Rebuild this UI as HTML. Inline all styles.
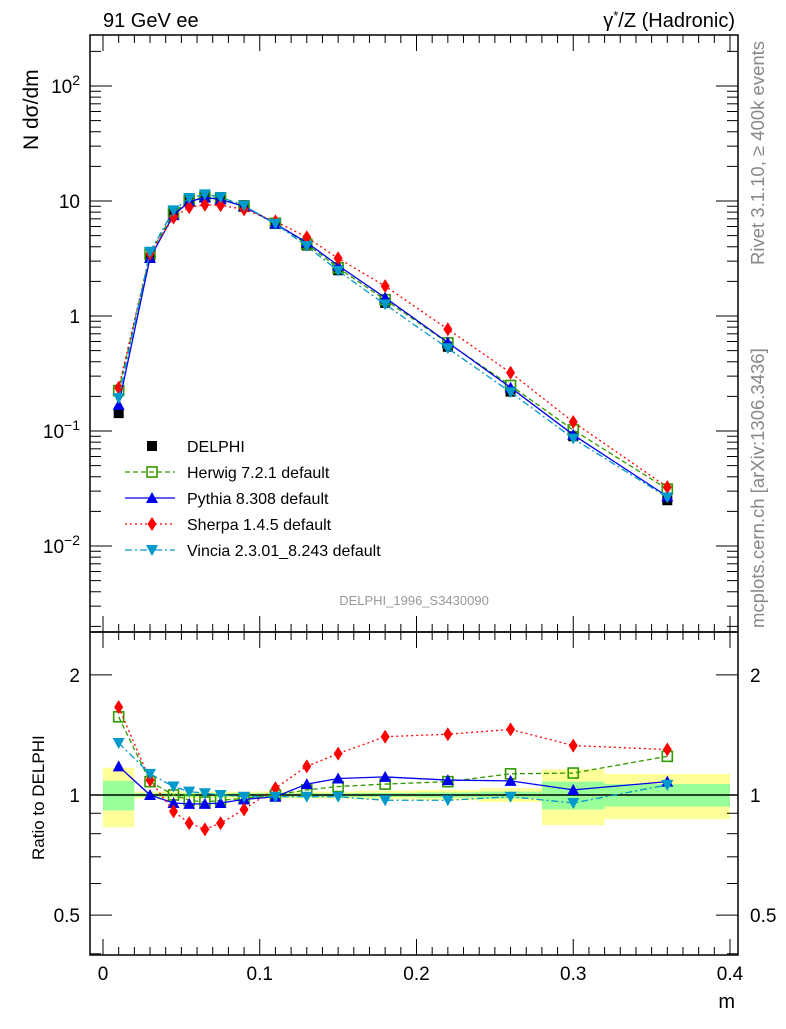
<!DOCTYPE html>
<html><head><meta charset="utf-8"><style>
body{margin:0;background:#fff;}
svg{font-family:"Liberation Sans",sans-serif;}
</style></head><body>
<svg id="c" width="786" height="1024" xmlns="http://www.w3.org/2000/svg"></svg>
<script>
const xs=[0.01,0.03,0.045,0.055,0.065,0.075,0.09,0.11,0.13,0.15,0.18,0.22,0.26,0.30,0.36];
const edges=[0,0.02,0.04,0.05,0.06,0.07,0.08,0.1,0.12,0.14,0.16,0.2,0.24,0.28,0.32,0.4];
const dataY=[0.143,3.2,7.9,10.4,11.3,10.8,9.2,6.4,4.1,2.5,1.3,0.54,0.22,0.09,0.025];
const errTot=[0.17,0.02,0.02,0.02,0.02,0.02,0.02,0.02,0.02,0.02,0.025,0.03,0.04,0.16,0.13];
const errStat=[0.085,0.01,0.01,0.01,0.01,0.01,0.01,0.01,0.01,0.01,0.012,0.015,0.02,0.08,0.065];
const herwigR=[1.57,1.08,1.0,0.97,0.96,0.97,0.98,1.0,1.03,1.05,1.065,1.08,1.13,1.135,1.25];
const pythiaR=[1.18,1.0,0.955,0.95,0.95,0.955,0.975,0.99,1.065,1.1,1.11,1.09,1.085,1.03,1.08];
const sherpaR=[1.66,1.09,0.91,0.85,0.82,0.85,0.92,1.04,1.18,1.27,1.40,1.42,1.46,1.33,1.30];
const vinciaR=[1.35,1.13,1.05,1.02,1.01,1.0,0.99,0.99,0.99,0.99,0.97,0.97,0.99,0.955,1.06];
const xTicks=[0,0.1,0.2,0.3,0.4];
const xTickLabels=["0","0.1","0.2","0.3","0.4"];

const S=document.getElementById('c');const NS="http://www.w3.org/2000/svg";
function el(t,a,p){const e=document.createElementNS(NS,t);for(const k in a)e.setAttribute(k,a[k]);(p||S).appendChild(e);return e;}
const L=90,R=738,T=35,MB=632,RB=955;
const X=v=>103+v*1567.5;
const Y=v=>316-115*Math.log10(v);
const YR=r=>795-399*Math.log10(r);

for(let i=0;i<xs.length;i++){
 let b=el('rect',{x:X(edges[i]),y:YR(1+errTot[i]),width:X(edges[i+1])-X(edges[i]),height:YR(1-errTot[i])-YR(1+errTot[i]),fill:'#ffff99'});
 
 let g=el('rect',{x:X(edges[i]),y:YR(1+errStat[i]),width:X(edges[i+1])-X(edges[i]),height:YR(1-errStat[i])-YR(1+errStat[i]),fill:'#99ff99'});
 
}
el('line',{x1:L,x2:R,y1:YR(1),y2:YR(1),stroke:'#000','stroke-width':1.5});

function marker(type,cx,cy,col,g){
 if(type==='sq')el('rect',{x:cx-5,y:cy-5,width:10,height:10,fill:col},g);
 if(type==='osq')el('rect',{x:cx-5,y:cy-5,width:10,height:10,fill:'none',stroke:col,'stroke-width':1.6},g);
 if(type==='tri')el('polygon',{points:`${cx-6},${cy+5} ${cx+6},${cy+5} ${cx},${cy-6}`,fill:col},g);
 if(type==='dia')el('polygon',{points:`${cx},${cy-7} ${cx+4.5},${cy} ${cx},${cy+7} ${cx-4.5},${cy}`,fill:col},g);
 if(type==='itri')el('polygon',{points:`${cx-6},${cy-5} ${cx+6},${cy-5} ${cx},${cy+6}`,fill:col},g);
}
const series=[
 ['herwig',herwigR,'#339900','osq','5,3'],
 ['pythia',pythiaR,'#0000ee','tri',''],
 ['sherpa',sherpaR,'#ff0000','dia','2,3'],
 ['vincia',vinciaR,'#0099cc','itri','7,3,2,3']];
const gd=el('g',{});
xs.forEach((x,i)=>marker('sq',X(x),Y(dataY[i]),'#000',gd));
series.forEach(s=>{
 const g=el('g',{});
 const pts=xs.map((x,i)=>X(x)+','+Y(dataY[i]*s[1][i])).join(' ');
 el('polyline',{points:pts,fill:'none',stroke:s[2],'stroke-width':1.3,'stroke-dasharray':s[4]},g);
 xs.forEach((x,i)=>marker(s[3],X(x),Y(dataY[i]*s[1][i]),s[2],g));
 const g2=el('g',{});
 el('polyline',{points:xs.map((x,i)=>X(x)+','+YR(s[1][i])).join(' '),fill:'none',stroke:s[2],'stroke-width':1.3,'stroke-dasharray':s[4]},g2);
 xs.forEach((x,i)=>marker(s[3],X(x),YR(s[1][i]),s[2],g2));
});
el('rect',{x:L,y:T,width:R-L,height:MB-T,fill:'none',stroke:'#000','stroke-width':1.5});
el('rect',{x:L,y:MB,width:R-L,height:RB-MB,fill:'none',stroke:'#000','stroke-width':1.5});
for(let e=-3;e<=2;e++){for(let m=1;m<10;m++){const v=m*Math.pow(10,e);const y=Y(v);if(y<T||y>MB)continue;const len=m===1?22:11;
 el('line',{x1:L,x2:L+len,y1:y,y2:y,stroke:'#000'});el('line',{x1:R,x2:R-len,y1:y,y2:y,stroke:'#000'});}}
function txt(s,x,y,sz,anchor,extra,name){const t=el('text',Object.assign({x:x,y:y,'font-size':sz,'text-anchor':anchor||'start'},extra||{}));t.innerHTML=s;return t;}
txt('10<tspan dy="-8" font-size="14">2</tspan>',80,Y(100)+7,19,'end',{},'y-tick-label');
txt('10',80,Y(10)+7,19,'end',{},'y-tick-label');
txt('1',80,Y(1)+7,19,'end',{},'y-tick-label');
txt('10<tspan dy="-8" font-size="14">−1</tspan>',80,Y(0.1)+7,19,'end',{},'y-tick-label');
txt('10<tspan dy="-8" font-size="14">−2</tspan>',80,Y(0.01)+7,19,'end',{},'y-tick-label');
[0.4,0.5,0.6,0.7,0.8,0.9,1,2].forEach(v=>{const y=YR(v);if(y<MB||y>RB)return;const len=(v===0.5||v===1||v===2)?22:11;
 el('line',{x1:L,x2:L+len,y1:y,y2:y,stroke:'#000'});el('line',{x1:R,x2:R-len,y1:y,y2:y,stroke:'#000'});});
[[2,'2'],[1,'1'],[0.5,'0.5']].forEach(a=>{txt(a[1],80,YR(a[0])+7,19,'end',{},'ratio-tick-label');txt(a[1],750,YR(a[0])+7,19,'start',{},'ratio-tick-label');});
for(let k=0;k<=40;k++){const v=k*0.01;const x=X(v);const maj=k%10===0;const len=maj?16:8;
 [[MB,-1],[RB,-1],[T,1],[MB,1]].forEach(p=>el('line',{x1:x,x2:x,y1:p[0],y2:p[0]+p[1]*len,stroke:'#000'}));}
xTicks.forEach((v,i)=>txt(xTickLabels[i],X(v),980,19,'middle',{},'x-tick-label'));
txt('91 GeV ee',103,27,20,'start',{},'title-left');
txt('γ<tspan dy="-7" font-size="13">*</tspan><tspan dy="7">/Z (Hadronic)</tspan>',735,27,20,'end',{},'title-right');
txt('N dσ/dm',38,150,21,'start',{transform:'rotate(-90 38 150)'},'y-axis-title');
txt('Ratio to DELPHI',44,860,17,'start',{transform:'rotate(-90 44 860)'},'ratio-axis-title');
txt('m',735,1008,20,'end',{},'x-axis-title');
txt('DELPHI_1996_S3430090',414,605,13,'middle',{fill:'#999'},'analysis-id');
txt('Rivet 3.1.10, ≥ 400k events',764,265,18.5,'start',{fill:'#888',transform:'rotate(-90 764 265)'},'rivet-label');
txt('mcplots.cern.ch [arXiv:1306.3436]',764,628,18.5,'start',{fill:'#888',transform:'rotate(-90 764 628)'},'mcplots-label');
const leg=[['sq','#000','','DELPHI'],['osq','#339900','5,3','Herwig 7.2.1 default'],['tri','#0000ee','','Pythia 8.308 default'],['dia','#ff0000','2,3','Sherpa 1.4.5 default'],['itri','#0099cc','7,3,2,3','Vincia 2.3.01_8.243 default']];
leg.forEach((l,i)=>{const y=446+i*26;const g=el('g',{});
 if(i>0)el('line',{x1:125,x2:175,y1:y,y2:y,stroke:l[1],'stroke-width':1.3,'stroke-dasharray':l[2]},g);
 marker(l[0],152,y,l[1],g);
 const t=el('text',{x:187,y:y+6,'font-size':16},g);t.textContent=l[3];});
</script>
</body></html>
